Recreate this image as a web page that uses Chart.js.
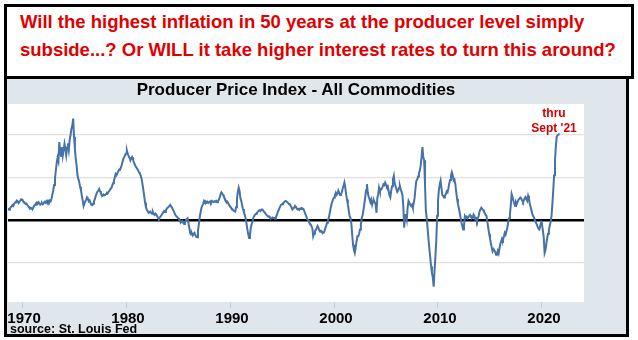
<!DOCTYPE html>
<html><head><meta charset="utf-8">
<script src="https://cdn.jsdelivr.net/npm/chart.js@4/dist/chart.umd.min.js"></script>
<style>
html,body{margin:0;padding:0;background:#fff;width:638px;height:340px;overflow:hidden;font-family:"Liberation Sans",Arial,sans-serif;}
.abs{position:absolute;box-sizing:border-box;}
#topbox{left:4px;top:4px;width:630px;height:75px;border:3px solid #000;background:#fff;z-index:2;}
#panel{left:4px;top:76px;width:625px;height:261px;border:3px solid #000;background:#dfe6ec;z-index:1;}
#headline{left:20px;top:8px;font-weight:bold;font-size:18.5px;line-height:28px;color:#e00000;white-space:nowrap;z-index:3;}
#ctitle{left:0;top:80px;width:592px;text-align:center;font-weight:bold;font-size:17px;line-height:20px;color:#000;z-index:4;}
#thru{left:524px;top:106px;width:60px;text-align:center;font-weight:bold;font-size:12px;line-height:15px;color:#d40000;z-index:4;}
#source{left:10px;top:323px;font-weight:bold;font-size:12.5px;line-height:12px;color:#000;z-index:4;white-space:nowrap;}
#c{position:absolute;left:0;top:0;z-index:3;}
</style></head>
<body>
<div id="topbox" class="abs"></div>
<div id="panel" class="abs"></div>
<div id="headline" class="abs">Will the highest inflation in 50 years at the producer level simply<br>subside...? Or WILL it take higher interest rates to turn this around?</div>
<div id="ctitle" class="abs">Producer Price Index - All Commodities</div>
<div id="thru" class="abs">thru<br>Sept '21</div>
<div id="source" class="abs">source: St. Louis Fed</div>
<canvas id="c" width="638" height="340"></canvas>
<script>
// PPI All Commodities, percent change from year ago, monthly from Sep 1968 to Sep 2021
const startYear = 1968;
const startMonth = 9;
const ppiYoY = [
  2.8, 2.4, 2.7, 3.0,
  3.2, 3.5, 3.3, 3.9, 4.1, 4.3, 4.6, 4.4, 4.0, 4.3, 4.6, 4.9,
  4.8, 4.5, 4.3, 4.1, 3.8, 3.9, 3.6, 3.3, 3.0, 2.9, 2.7, 2.8,
  2.5, 2.9, 3.4, 3.6, 3.9, 4.1, 3.8, 4.2, 3.9, 3.6, 3.8, 4.0,
  3.7, 4.0, 4.3, 4.1, 4.4, 4.0, 4.5, 4.2, 4.6, 4.4, 5.0, 6.0,
  7.0, 8.2, 9.8, 11.6, 13.4, 14.6, 13.8, 18.3, 16.2, 15.0, 17.1, 15.1,
  16.4, 17.9, 16.8, 15.2, 17.0, 18.0, 16.5, 18.8, 20.0, 21.4, 22.1, 23.8,
  19.5, 16.8, 14.2, 12.8, 10.5, 9.6, 8.9, 7.8, 7.0, 5.7, 4.6, 3.3,
  3.9, 4.4, 4.8, 5.3, 4.9, 4.4, 4.6, 4.0, 3.6, 3.5, 3.8, 4.3,
  4.9, 5.6, 6.2, 6.7, 6.9, 7.3, 6.8, 6.3, 5.9, 5.7, 6.0, 5.8,
  5.9, 6.1, 6.4, 6.3, 6.7, 6.9, 7.3, 7.5, 8.0, 8.6, 9.2, 9.9,
  10.8, 10.5, 11.0, 11.4, 11.8, 12.0, 12.2, 12.9, 13.7, 14.4, 14.8, 15.2,
  15.6, 16.3, 15.5, 15.0, 14.6, 14.0, 14.5, 14.8, 14.2, 13.5, 13.1, 12.6,
  12.3, 12.0, 11.6, 11.2, 10.9, 10.4, 9.6, 8.4, 7.0, 5.6, 4.1, 3.0,
  2.4, 2.1, 1.7, 1.8, 2.0, 1.7, 1.5, 1.9, 1.4, 1.2, 1.5, 1.3,
  0.9, 0.5, 0.3, 0.6, 0.9, 1.2, 1.5, 1.8, 2.1, 1.9, 2.3, 2.7,
  2.9, 3.1, 3.3, 3.55, 3.2, 2.9, 2.5, 2.1, 1.6, 1.2, 0.9, 0.7,
  0.5, 0.3, -0.1, -0.6, -0.4, -0.2, -0.7, -0.9, -0.6, -0.1, 0.2, 0.4,
  -0.6, -1.8, -3.0, -3.4, -3.1, -3.6, -3.2, -3.0, -3.5, -3.9, -4.0, -2.6,
  -1.0, 0.6, 1.8, 2.9, 3.4, 3.8, 4.5, 4.2, 4.4, 4.1, 4.3, 4.0,
  4.2, 4.4, 4.1, 4.5, 4.3, 4.2, 4.4, 4.3, 4.5, 4.2, 4.4, 4.7,
  5.3, 6.0, 6.5, 6.2, 5.9, 5.4, 5.0, 4.6, 4.1, 4.3, 3.9, 3.5,
  3.2, 2.9, 2.7, 2.5, 2.2, 2.1, 2.0, 3.0, 4.9, 6.6, 7.6, 6.8,
  5.1, 4.5, 3.4, 2.6, 1.9, 1.3, 0.4, -0.8, -2.1, -3.3, -4.2, -3.6,
  -1.8, -0.9, -0.2, 0.6, 0.95, 1.3, 1.5, 1.7, 1.9, 2.2, 2.3, 2.1,
  2.4, 2.5, 2.3, 2.0, 1.8, 1.5, 1.2, 1.0, 0.8, 0.9, 0.6, 0.4,
  0.4, 0.6, 0.5, 0.5, 0.3, 0.7, 1.2, 1.8, 2.3, 2.8, 3.2, 3.6,
  3.7, 3.9, 4.1, 4.3, 4.5, 4.4, 4.2, 4.0, 3.8, 3.7, 3.3, 3.0,
  2.5, 2.7, 2.9, 3.3, 3.0, 2.8, 2.5, 2.6, 2.4, 2.7, 2.6, 2.8,
  2.7, 2.5, 1.9, 1.4, 0.9, 0.2, 0.0, -0.4, -0.8, -1.0, -1.4, -1.9,
  -3.8, -3.2, -2.6, -2.3, -1.9, -1.4, -1.8, -2.4, -2.7, -2.5, -2.8, -3.0,
  -3.0, -2.6, -1.9, -1.3, -0.6, 0.1, 0.5, 1.6, 2.7, 3.6, 4.3, 4.9,
  5.3, 5.8, 6.4, 5.9, 6.2, 6.9, 6.4, 5.9, 6.0, 6.5, 7.4, 8.0,
  8.8, 7.6, 6.0, 4.8, 3.7, 2.2, 0.9, 0.5, -0.8, -3.5, -5.8, -7.0,
  -7.7, -6.4, -5.0, -3.8, -3.8, -3.2, -2.2, -1.1, 0.5, 1.2, 2.4, 3.8,
  5.3, 7.0, 8.4, 6.4, 5.4, 4.9, 4.2, 4.8, 3.6, 4.4, 4.6, 4.1,
  3.8, 1.7, 5.2, 6.0, 7.6, 6.8, 7.1, 7.3, 7.8, 8.4, 8.2, 8.8,
  8.3, 7.8, 8.0, 6.9, 5.8, 5.3, 6.9, 7.9, 9.6, 10.4, 8.6, 8.0,
  7.3, 6.6, 6.9, 7.6, 8.0, 7.2, 6.6, 5.8, 3.1, -1.8, 1.2, 1.4,
  0.2, 3.0, 4.5, 4.1, 3.6, 3.3, 3.6, 2.9, 4.0, 5.2, 7.4, 9.2,
  9.5, 10.2, 11.0, 11.6, 12.8, 14.6, 17.1, 14.8, 14.0, 8.4, 2.2, 0.5,
  -2.0, -4.4, -6.6, -8.6, -10.8, -12.4, -13.4, -15.6, -12.0, -8.5, -5.0, 1.0,
  4.5, 7.0, 8.3, 9.2, 7.5, 5.9, 5.6, 5.3, 5.8, 6.0, 6.7, 6.5,
  7.4, 8.6, 9.4, 10.4, 11.2, 10.5, 9.3, 9.5, 8.4, 6.6, 5.0, 3.8,
  2.9, 1.8, 0.6, -0.5, -1.4, -2.2, -1.3, 0.95, 0.6, 0.8, 0.4, 0.7,
  1.0, 1.2, 0.8, 0.6, 0.5, 1.3, 1.0, 0.2, 0.4, -0.2, 0.5, 1.0,
  2.1, 2.5, 2.9, 2.6, 2.4, 2.0, 1.6, 1.2, 0.95, -0.5, -1.8, -3.2,
  -4.2, -5.5, -6.4, -7.3, -6.8, -7.1, -7.5, -8.1, -7.9, -7.2, -7.8, -6.6,
  -5.5, -5.0, -4.3, -4.6, -3.9, -3.0, -3.4, -2.6, -1.8, -0.5, 0.4, 1.35,
  3.5, 6.1, 5.4, 4.6, 3.9, 3.3, 4.2, 3.8, 4.3, 4.8, 5.0, 5.3,
  5.1, 4.6, 4.2, 4.5, 5.1, 5.4, 4.9, 4.5, 5.7, 5.0, 3.7, 3.0,
  2.1, 1.3, 0.9, 0.5, -0.2, -0.6, -1.0, -1.6, -2.0, -2.2, -1.3, -0.5,
  -1.0, -2.4, -4.0, -7.7, -7.0, -5.6, -4.2, -3.2, -2.2, -1.3, -0.4, 0.95,
  3.8, 7.0, 10.5, 14.0, 17.2, 19.5, 19.9, 20.0, 20.3
];
const xTickYears = [1970, 1980, 1990, 2000, 2010, 2020];
const yGridValues = [-10, 0, 10, 20];
const xRange = [1968.65, 2024.04];
const yRange = [-19.2, 27.2];

const points = ppiYoY.map((v, i) => ({ x: startYear + (startMonth - 1 + i) / 12, y: v }));

const plotBg = {
  id: 'plotBg',
  beforeDraw(chart) {
    const { ctx, chartArea: a } = chart;
    ctx.save();
    ctx.fillStyle = '#ffffff';
    ctx.fillRect(a.left, a.top, a.right - a.left, a.bottom - a.top);
    ctx.restore();
  }
};

new Chart(document.getElementById('c'), {
  type: 'line',
  data: { datasets: [{ data: points, borderColor: '#4572a7', borderWidth: 2, pointRadius: 0, tension: 0, fill: false }] },
  options: {
    responsive: false,
    animation: false,
    parsing: false,
    layout: { padding: { left: 8, right: 54, top: 104, bottom: 10 } },
    plugins: { legend: { display: false }, tooltip: { enabled: false }, title: { display: false } },
    scales: {
      x: {
        type: 'linear', min: xRange[0], max: xRange[1],
        afterBuildTicks: s => { s.ticks = xTickYears.map(v => ({ value: v })); },
        ticks: { callback: v => String(v), color: '#000', font: { family: '"Liberation Sans", Arial, sans-serif', size: 15, weight: 'bold' }, padding: 2, labelOffset: 2, maxRotation: 0, autoSkip: false },
        grid: { drawOnChartArea: false, drawTicks: true, tickLength: 6, color: '#c5ced6' },
        border: { display: false }
      },
      y: {
        min: yRange[0], max: yRange[1],
        afterBuildTicks: s => { s.ticks = yGridValues.map(v => ({ value: v })); },
        ticks: { display: false },
        grid: { drawTicks: false, color: c => c.tick && c.tick.value === 0 ? '#000' : '#e0e0e0', lineWidth: c => c.tick && c.tick.value === 0 ? 2.5 : 1.2 },
        border: { display: false }
      }
    }
  },
  plugins: [plotBg]
});
</script>
</body></html>
